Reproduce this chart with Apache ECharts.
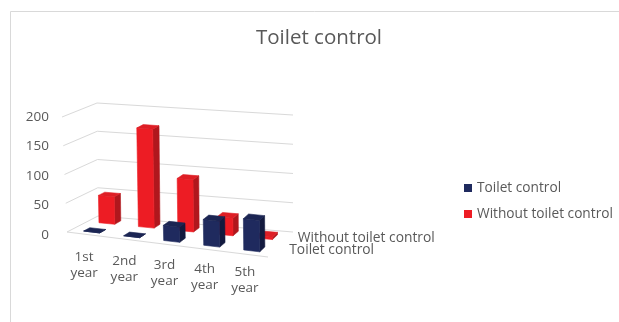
<!DOCTYPE html>
<html><head><meta charset="utf-8">
<script src="https://cdn.jsdelivr.net/npm/echarts@6/dist/echarts.min.js"></script>
<style>html,body{margin:0;padding:0;background:#fff}#c{width:619px;height:322px}</style>
</head><body><div id="c"></div>
<script>
// ---- data ----
const categories = ['1st\nyear', '2nd\nyear', '3rd\nyear', '4th\nyear', '5th\nyear'];
const seriesNames = ['Toilet control', 'Without toilet control'];
const toiletControl = [0, 0, 26, 44, 53];
const withoutToiletControl = [48, 172, 90, 30, 4];
const yTicks = [0, 50, 100, 150, 200];
const chartTitle = 'Toilet control';

// ---- 3D projection of the plot box (screen corners: [left, right]) ----
const PROJ = {
  fb: [[67, 232], [268, 257]],   // front, floor
  bb: [[98, 216], [293, 232]],   // back, floor
  ft: [[62, 117], [267, 138]],   // front, top of value range
  bt: [[97, 103], [293, 115]]    // back, top of value range
};
function lerp(a, b, k) { return [a[0] + (b[0] - a[0]) * k, a[1] + (b[1] - a[1]) * k]; }
function P(u, w, t) {
  const bot = lerp(lerp(PROJ.fb[0], PROJ.fb[1], u), lerp(PROJ.bb[0], PROJ.bb[1], u), w);
  const top = lerp(lerp(PROJ.ft[0], PROJ.ft[1], u), lerp(PROJ.bt[0], PROJ.bt[1], u), w);
  return lerp(bot, top, t);
}
const TXT = '#595959';
const FONT = "'Open Sans', 'Noto Sans', sans-serif";
const ROW = [0.25, 0.75];      // depth centre of each series row
const BAR_W = 0.4, BAR_D = 0.2;
const COLORS = [
  { front: '#1F2A5E', top: '#1B2553', side: '#131A3E', legend: '#1F2A5E' },
  { front: '#ED1C24', top: '#DE1E25', side: '#B0171D', legend: '#ED1C24' }
];

function norm(params, api, xy) {
  const cs = params.coordSys;
  const c = api.coord(xy);
  return { u: (c[0] - cs.x) / cs.width, t: (cs.y + cs.height - c[1]) / cs.height,
           band: api.size([1, 0])[0] / cs.width };
}

function barRenderer(row) {
  return function (params, api) {
    const n = norm(params, api, [api.value(0), api.value(1)]);
    const hw = n.band * BAR_W / 2, hd = BAR_D / 2;
    const u0 = n.u - hw, u1 = n.u + hw, w0 = ROW[row] - hd, w1 = ROW[row] + hd, t1 = n.t;
    const col = COLORS[row];
    const poly = (pts, fill) => ({ type: 'polygon', shape: { points: pts },
      style: { fill: fill, stroke: fill, lineWidth: 0.6 } });
    return { type: 'group', children: [
      poly([P(u1, w0, 0), P(u1, w1, 0), P(u1, w1, t1), P(u1, w0, t1)], col.side),
      poly([P(u0, w0, 0), P(u1, w0, 0), P(u1, w0, t1), P(u0, w0, t1)], col.front),
      poly([P(u0, w0, t1), P(u1, w0, t1), P(u1, w1, t1), P(u0, w1, t1)], col.top)
    ] };
  };
}

function gridRenderer(params, api) {
  const n = norm(params, api, [0, api.value(1)]);
  const t = n.t;
  const children = [{ type: 'polyline', shape: { points: [P(0, 0, t), P(0, 1, t), P(1, 1, t)] },
    style: { stroke: '#D9D9D9', lineWidth: 1, fill: null } }];
  if (api.value(1) === 0) {
    children.push({ type: 'line', shape: { x1: P(0, 0, 0)[0], y1: P(0, 0, 0)[1], x2: P(1, 0, 0)[0], y2: P(1, 0, 0)[1] },
      style: { stroke: '#D9D9D9', lineWidth: 1 } });
  }
  return { type: 'group', children: children };
}

function catLabelRenderer(params, api) {
  const n = norm(params, api, [api.value(0), 0]);
  const p = P(n.u, 0, 0);
  return { type: 'text', x: p[0] - 3, y: p[1] + 15.5 - 6 * n.u,
    style: { text: categories[api.value(0)], fill: TXT, fontSize: 13.5, fontFamily: FONT,
      align: 'center', verticalAlign: 'top', lineHeight: 16 } };
}

function depthLabelRenderer(params, api) {
  const row = api.value(2);
  const n = norm(params, api, [categories.length - 1, 0]);
  const uEnd = n.u + n.band / 2;
  const p = P(uEnd, ROW[row], 0);
  return { type: 'text', x: p[0] + 11 + 8 * (0.75 - ROW[row]), y: p[1] - 0.5,
    style: { text: seriesNames[row], fill: TXT, fontSize: 13.8, fontFamily: FONT,
      align: 'left', verticalAlign: 'middle' } };
}

const chart = echarts.init(document.getElementById('c'), null, { renderer: 'canvas' });
chart.setOption({
  backgroundColor: '#fff',
  animation: false,
  title: { text: chartTitle, left: 256, top: 26, padding: 0,
    textStyle: { color: TXT, fontSize: 20.5, fontWeight: 'normal', fontFamily: FONT, lineHeight: 24 } },
  legend: { orient: 'vertical', left: 459, top: 176, itemWidth: 8, itemHeight: 8, itemGap: 12,
    icon: 'rect', data: seriesNames,
    textStyle: { color: TXT, fontSize: 13.7, fontFamily: FONT, lineHeight: 14 } },
  graphic: [
    { type: 'polyline', shape: { points: [[10.5, 322], [10.5, 11.5], [619, 11.5]] },
      style: { stroke: '#D9D9D9', lineWidth: 1, fill: null }, silent: true }
  ],
  grid: { left: 67, top: 117, width: 201, height: 118, containLabel: false },
  xAxis: { type: 'category', data: categories, show: false },
  yAxis: { type: 'value', min: 0, max: 200, interval: 50,
    axisLine: { show: false }, axisTick: { show: false }, splitLine: { show: false },
    axisLabel: { color: TXT, fontSize: 13.5, fontFamily: FONT, margin: 18 } },
  series: [
    { type: 'custom', name: 'grid', coordinateSystem: 'cartesian2d', clip: false, silent: true, z: 1,
      renderItem: gridRenderer, data: yTicks.map(v => [0, v]), legendHoverLink: false },
    { type: 'custom', name: seriesNames[1], coordinateSystem: 'cartesian2d', clip: false, z: 2,
      itemStyle: { color: COLORS[1].legend },
      renderItem: barRenderer(1), data: withoutToiletControl.map((v, i) => [i, v]) },
    { type: 'custom', name: seriesNames[0], coordinateSystem: 'cartesian2d', clip: false, z: 3,
      itemStyle: { color: COLORS[0].legend },
      renderItem: barRenderer(0), data: toiletControl.map((v, i) => [i, v]) },
    { type: 'custom', name: 'catLabels', coordinateSystem: 'cartesian2d', clip: false, silent: true, z: 4,
      renderItem: catLabelRenderer, data: categories.map((c, i) => [i, 0]) },
    { type: 'custom', name: 'depthLabels', coordinateSystem: 'cartesian2d', clip: false, silent: true, z: 4,
      renderItem: depthLabelRenderer, data: [[0, 0, 1], [0, 0, 0]] }
  ]
});
</script></body></html>
